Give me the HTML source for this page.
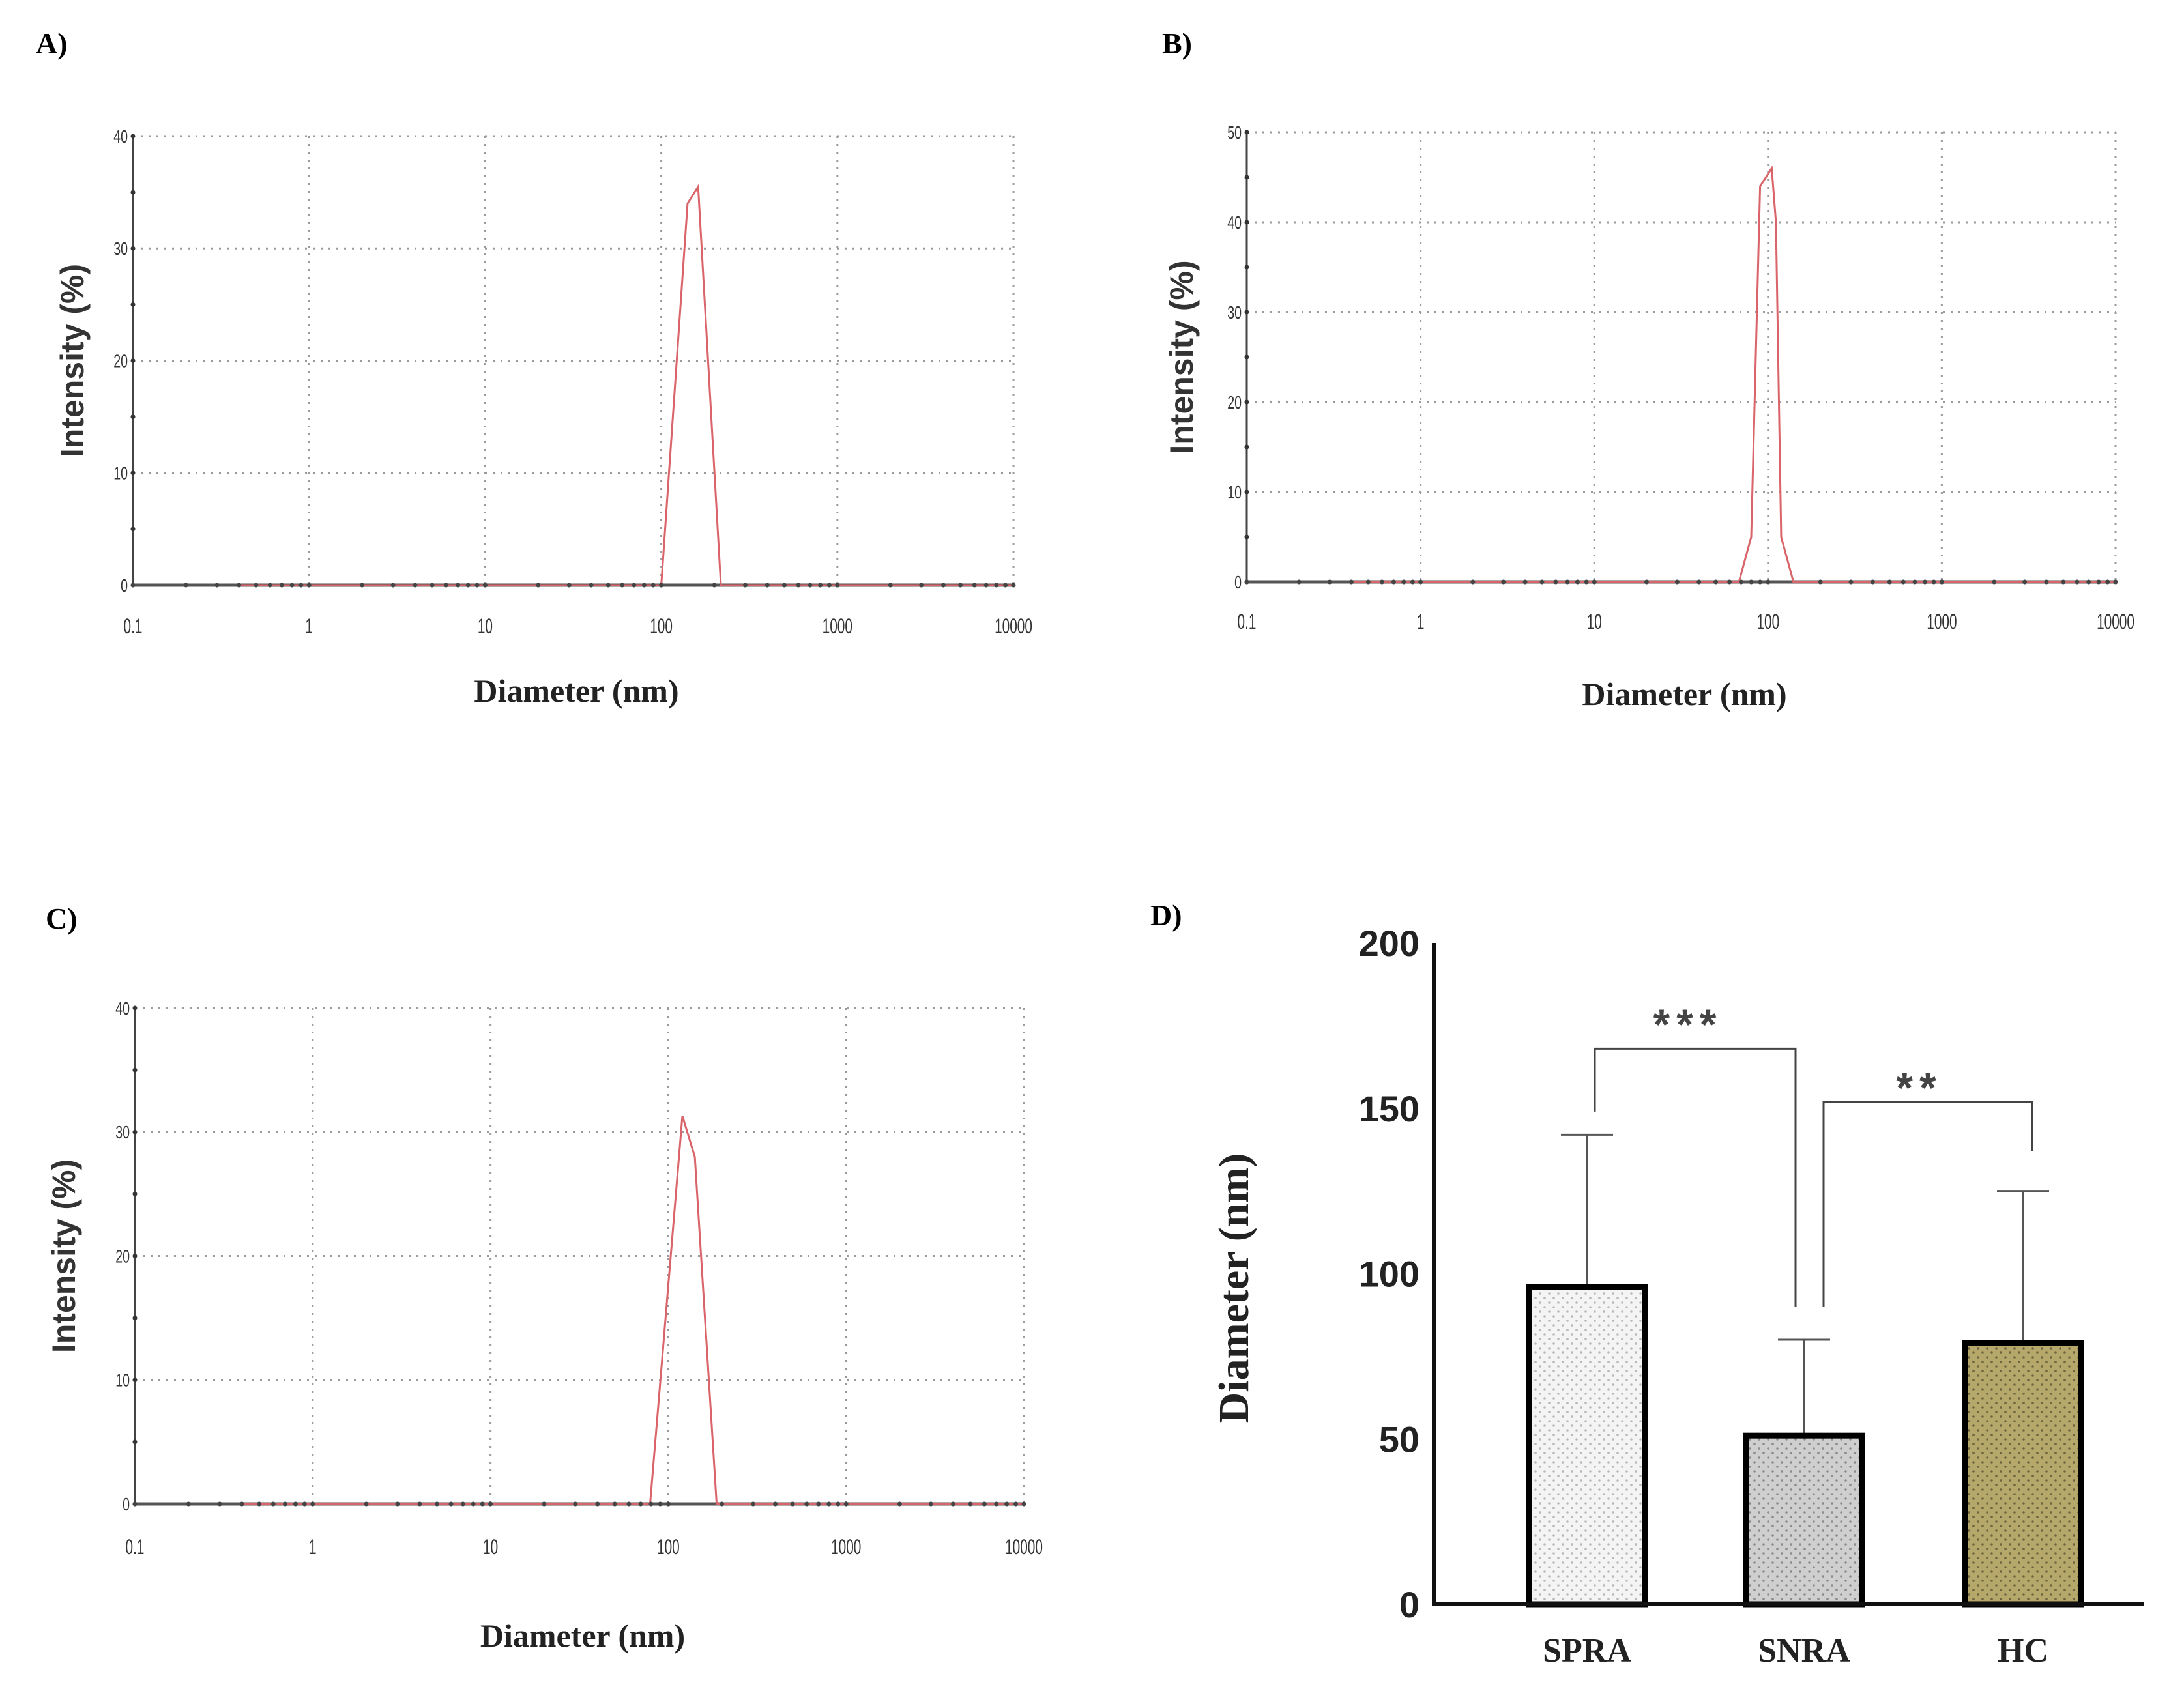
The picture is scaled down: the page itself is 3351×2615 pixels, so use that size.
<!DOCTYPE html>
<html><head><meta charset="utf-8"><style>
html,body{margin:0;padding:0;background:#fff;}
svg{display:block;}
</style></head><body>
<svg id="fig" width="3351" height="2615" viewBox="0 0 3351 2615" xmlns="http://www.w3.org/2000/svg">
<rect width="3351" height="2615" fill="#fff"/>
<g id="gA"></g>
<g id="gB"></g>
<g id="gC"></g>
<g id="gD"></g>
</svg>
<script>
// Panel A data
const diamA = [0.4, 100, 141, 162, 218, 10000];
const intA = [0, 0, 34, 35.5, 0, 0];
// Panel B data
const diamB = [0.4, 68, 80, 90, 105, 111, 119, 140, 10000];
const intB = [0, 0, 5, 44, 46, 40, 5, 0, 0];
// Panel C data
const diamC = [0.4, 79, 120, 141, 187, 10000];
const intC = [0, 0, 31.3, 28, 0, 0];
const xTickLabels = ["0.1", "1", "10", "100", "1000", "10000"];
const yTicksA = [0, 10, 20, 30, 40];
const yTicksB = [0, 10, 20, 30, 40, 50];
const yTicksC = [0, 10, 20, 30, 40];
// Panel D data
const categories = ["SPRA", "SNRA", "HC"];
const means = [96, 51, 79];
const errs = [46, 29, 46];
const dTicks = [0, 50, 100, 150, 200];

const NS = "http://www.w3.org/2000/svg";
function mk(parent, tag, attrs, text) {
  const e = document.createElementNS(NS, tag);
  for (const k in attrs) e.setAttribute(k, attrs[k]);
  if (text !== undefined) e.textContent = text;
  parent.appendChild(e);
  return e;
}

function dls(g, cfg, diam, inten, yTicks) {
  const {x0, x1, yTop, yZero, ymax, label, lx, ly, tickY, titleY, ytX} = cfg;
  const xs = d => x0 + (Math.log10(d) + 1) / 5 * (x1 - x0);
  const ys = v => yZero - v / ymax * (yZero - yTop);
  let e;
  e = mk(g, "text", {x: lx, y: ly, "font-family": "Liberation Serif, serif", "font-weight": "bold", "font-size": 46}, label);
  
  
  for (let i = 1; i < 6; i++) {
    const X = xs(Math.pow(10, i - 1));
    e = mk(g, "line", {x1: X, x2: X, y1: yTop, y2: yZero, stroke: "#9a9a9a", "stroke-width": 3, "stroke-dasharray": "3 9"});
    
    
  }
  yTicks.forEach(t => {
    if (t === 0) return;
    e = mk(g, "line", {x1: x0, x2: x1, y1: ys(t), y2: ys(t), stroke: "#9a9a9a", "stroke-width": 3, "stroke-dasharray": "3 9"});
    
    
  });
  e = mk(g, "line", {x1: x0, x2: x0, y1: yTop, y2: yZero, stroke: "#444", "stroke-width": 3});
  
  
  for (let v = 0; v <= ymax; v += 5) {
    e = mk(g, "circle", {cx: x0, cy: ys(v), r: 3.5, fill: "#333"});
    
    
  }
  yTicks.forEach(t => {
    e = mk(g, "text", {x: x0 - 8, y: ys(t) + 10, "text-anchor": "end", "font-family": "Liberation Sans, sans-serif", "font-size": 28, fill: "#333", transform: `translate(${x0 - 8},0) scale(0.7,1) translate(${-(x0 - 8)},0)`}, t);
    
    
  });
  e = mk(g, "line", {x1: x0, x2: x1, y1: yZero, y2: yZero, stroke: "#555", "stroke-width": 5});
  
  
  const pts = diam.map((d, i) => xs(d) + "," + ys(inten[i])).join(" ");
  e = mk(g, "polyline", {points: pts, fill: "none", stroke: "#d9656b", "stroke-width": 3});
  
  
  for (let dec = -1; dec < 4; dec++) for (let m = 1; m <= 10; m++) {
    const X = xs(m * Math.pow(10, dec));
    e = mk(g, "circle", {cx: X, cy: yZero, r: 3.5, fill: "#444"});
    
    
  }
  xTickLabels.forEach((t, i) => {
    const X = xs(Math.pow(10, i - 1));
    e = mk(g, "text", {x: X, y: tickY, "text-anchor": "middle", "font-family": "Liberation Sans, sans-serif", "font-size": 32, fill: "#333", transform: `translate(${X},0) scale(0.65,1) translate(${-X},0)`}, t);
    
    
  });
  e = mk(g, "text", {x: (x0 + x1) / 2 + 5, y: titleY, "text-anchor": "middle", "font-family": "Liberation Serif, serif", "font-weight": "bold", "font-size": 50, fill: "#222"}, "Diameter (nm)");
  
  
  const cy = (yTop + yZero) / 2;
  e = mk(g, "text", {x: ytX, y: cy, "text-anchor": "middle", "font-family": "Liberation Sans, sans-serif", "font-weight": "bold", "font-size": 50, fill: "#333", transform: `rotate(-90 ${ytX} ${cy})`}, "Intensity (%)");
  
  
}

dls(document.getElementById("gA"), {x0: 204, x1: 1555, yTop: 209, yZero: 898, ymax: 40, label: "A)", lx: 55, ly: 82, tickY: 972, titleY: 1077, ytX: 128}, diamA, intA, yTicksA);
dls(document.getElementById("gB"), {x0: 1913, x1: 3246, yTop: 203, yZero: 893, ymax: 50, label: "B)", lx: 1783, ly: 82, tickY: 965, titleY: 1082, ytX: 1830}, diamB, intB, yTicksB);
dls(document.getElementById("gC"), {x0: 207, x1: 1571, yTop: 1547, yZero: 2308, ymax: 40, label: "C)", lx: 70, ly: 1425, tickY: 2385, titleY: 2527, ytX: 115}, diamC, intC, yTicksC);

(function () {
  const g = document.getElementById("gD");
  const x0 = 2200, x1 = 3290, yZero = 2462, yTop = 1447;
  const ys = v => yZero - v / 200 * (yZero - yTop);
  const centers = [2435, 2768, 3104];
  const bw = 178;
  const fills = ["url(#dotsA)", "url(#dotsB)", "url(#dotsC)"];
  const defs = mk(g, "defs", {});
  [["dotsA", "#f4f4f4", "#b8b8b8"], ["dotsB", "#cfcfcf", "#8a8a8a"], ["dotsC", "#b6a86a", "#6e6440"]].forEach(p => {
    const pat = mk(defs, "pattern", {id: p[0], width: 14, height: 14, patternUnits: "userSpaceOnUse"});
    mk(pat, "rect", {width: 14, height: 14, fill: p[1]});
    mk(pat, "circle", {cx: 4, cy: 4, r: 1.8, fill: p[2]});
    mk(pat, "circle", {cx: 11, cy: 11, r: 1.8, fill: p[2]});
  });
  let e;
  e = mk(g, "text", {x: 1765, y: 1420, "font-family": "Liberation Serif, serif", "font-weight": "bold", "font-size": 46}, "D)");
  
  
  categories.forEach((c, i) => {
    const cx = centers[i];
    const top = ys(means[i]);
    e = mk(g, "line", {x1: cx, x2: cx, y1: ys(means[i] + errs[i]), y2: top, stroke: "#555", "stroke-width": 3});
    
    
    e = mk(g, "line", {x1: cx - 40, x2: cx + 40, y1: ys(means[i] + errs[i]), y2: ys(means[i] + errs[i]), stroke: "#555", "stroke-width": 3});
    
    
    e = mk(g, "rect", {x: cx - bw / 2, y: top, width: bw, height: yZero - top, fill: fills[i], stroke: "#000", "stroke-width": 9});
    
    
    e = mk(g, "text", {x: cx, y: 2550, "text-anchor": "middle", "font-family": "Liberation Serif, serif", "font-weight": "bold", "font-size": 52, fill: "#222"}, c);
    
    
  });
  e = mk(g, "line", {x1: x0, x2: x0, y1: yTop, y2: yZero + 3, stroke: "#111", "stroke-width": 6});
  
  
  e = mk(g, "line", {x1: x0 - 3, x2: x1, y1: yZero, y2: yZero, stroke: "#111", "stroke-width": 6});
  
  
  dTicks.forEach(t => {
    e = mk(g, "text", {x: 2178, y: ys(t) + 20, "text-anchor": "end", "font-family": "Liberation Sans, sans-serif", "font-weight": "bold", "font-size": 56, fill: "#222"}, t);
    
    
  });
  e = mk(g, "text", {x: 1915, y: 1977, "text-anchor": "middle", "font-family": "Liberation Serif, serif", "font-weight": "bold", "font-size": 66, fill: "#222", transform: "rotate(-90 1915 1977)"}, "Diameter (nm)");
  
  
  e = mk(g, "polyline", {points: `2447,${ys(149)} 2447,${ys(168)} 2755,${ys(168)} 2755,${ys(90)}`, fill: "none", stroke: "#444", "stroke-width": 3});
  
  
  e = mk(g, "polyline", {points: `2798,${ys(90)} 2798,${ys(152)} 3118,${ys(152)} 3118,${ys(137)}`, fill: "none", stroke: "#444", "stroke-width": 3});
  
  
  e = mk(g, "text", {x: 2590, y: 1595, "text-anchor": "middle", "font-family": "Liberation Sans, sans-serif", "font-weight": "bold", "font-size": 66, fill: "#444", "letter-spacing": 10}, "***");
  
  
  e = mk(g, "text", {x: 2945, y: 1692, "text-anchor": "middle", "font-family": "Liberation Sans, sans-serif", "font-weight": "bold", "font-size": 66, fill: "#444", "letter-spacing": 10}, "**");
  
  
})();
</script>
</body></html>
